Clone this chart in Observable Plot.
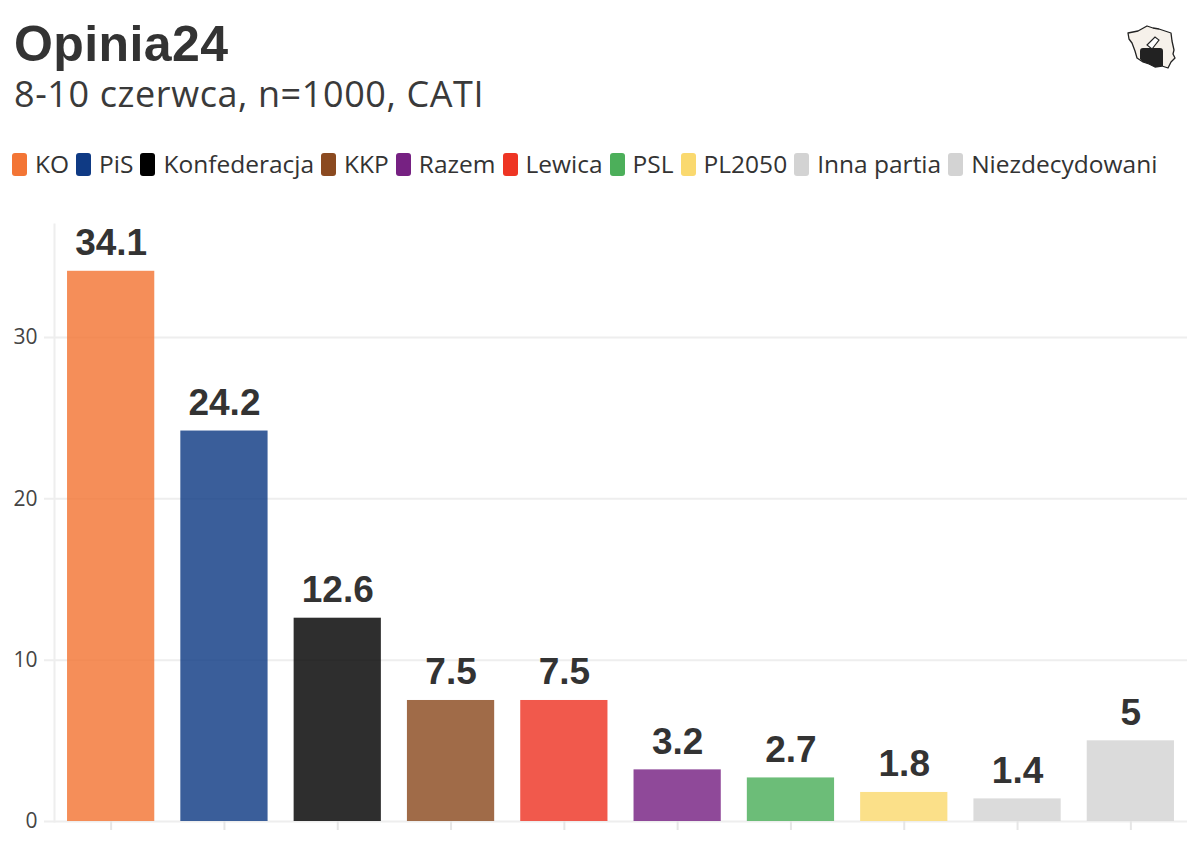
<!DOCTYPE html>
<html><head><meta charset="utf-8">
<script src="https://cdn.jsdelivr.net/npm/d3@7"></script>
<script src="https://cdn.jsdelivr.net/npm/@observablehq/plot@0.6"></script>
<style>
html,body{margin:0;padding:0;background:#fff;width:1200px;height:852px;overflow:hidden;font-family:"Open Sans",sans-serif;color:#333}
#head{position:relative;height:200px}
#title{position:absolute;left:14px;top:14px;font-size:50px;letter-spacing:.4px;font-weight:700;line-height:60px;color:#333;font-family:"Liberation Sans",sans-serif}
#sub{position:absolute;left:14px;top:72px;font-size:36px;line-height:44px;color:#3a3a3a;font-family:"Open Sans",sans-serif;letter-spacing:.6px}
#legend{position:absolute;left:12px;top:152px;display:flex;gap:7px;font-size:24.5px;line-height:24px;color:#333;font-family:"Open Sans",sans-serif}
.it{display:flex;align-items:center;gap:8px}
.sw{width:15px;height:23px;border-radius:3px;display:inline-block}
#logo{position:absolute;left:1126px;top:25px}
svg{display:block}
</style></head><body>
<div id="head">
<div id="title">Opinia24</div>
<div id="sub">8-10 czerwca, n=1000, CATI</div>
<div id="legend"></div>
<svg id="logo" width="52" height="46" viewBox="0 0 52 46"><path d="M2 8 L12 6 L21 1 L27 3 L33 4 L39 6 L45 8 L46 16 L48 25 L47 29 L49 33 L45 37 L42 43 L36 41 L29 42 L23 39 L17 37 L11 33 L9 26 L6 18 L3 14 Z" fill="#f6f1ea" stroke="#222" stroke-width="1.3" stroke-linejoin="round"/><path d="M14 26 Q14 23 17 23 L34 23 Q37 23 37 26 L37 41 L29 42 L23 39 L17 37 L14 34 Z" fill="#222"/><path d="M21 20 L29 12 L33 15 L26 24 Z" fill="#fff" stroke="#222" stroke-width="1.1"/></svg>
</div>
<div id="chart"></div>
<script>
const legendParties=["KO","PiS","Konfederacja","KKP","Razem","Lewica","PSL","PL2050","Inna partia","Niezdecydowani"];
const legendColors=["#F37535","#0F3A84","#000000","#8B4A20","#762182","#EE3524","#4CAF5A","#FAD96F","#D3D3D3","#D3D3D3"];
const parties=["KO","PiS","Konfederacja","KKP","Lewica","Razem","PSL","PL2050","Inna partia","Niezdecydowani"];
const values=[34.1,24.2,12.6,7.5,7.5,3.2,2.7,1.8,1.4,5];
const yTicks=[0,10,20,30];
const rows=parties.map((p,i)=>({party:p,value:values[i]}));
const lg=d3.select("#legend");
legendParties.forEach((p,i)=>{const it=lg.append("div").attr("class","it");
 it.append("span").attr("class","sw").style("background",legendColors[i]);
 it.append("span").text(p);});
const grid="#eeeeee";
const chart=Plot.plot({
 width:1200,height:652,marginTop:24,marginBottom:31,marginLeft:54,marginRight:13,
 style:{background:"#fff",fontFamily:"Open Sans"},
 x:{domain:parties,paddingInner:0.23,paddingOuter:0.115,align:0.5,round:false,label:null},
 y:{domain:[0,37],label:null},
 color:{domain:legendParties,range:legendColors},
 marks:[
  Plot.ruleY(yTicks,{stroke:grid,strokeWidth:2,insetLeft:-10}),
  Plot.frame({anchor:"left",stroke:grid,strokeWidth:2}),
  Plot.axisX({tickSize:9,stroke:"#e6e6e6",tickFormat:()=>"",strokeWidth:2,tickPadding:0,label:null}),
  Plot.axisY({ticks:yTicks,tickSize:0,tickPadding:17,fontSize:21,fill:"#444",label:null}),
  Plot.barY(rows,{x:"party",y:"value",fill:"party",fillOpacity:0.82}),
  Plot.text(rows,{x:"party",y:"value",text:d=>String(d.value),lineAnchor:"bottom",dy:-16,fontSize:37,fontWeight:700,fill:"#333",fontFamily:"Liberation Sans"})
 ]});
document.getElementById("chart").append(chart);
</script></body></html>
